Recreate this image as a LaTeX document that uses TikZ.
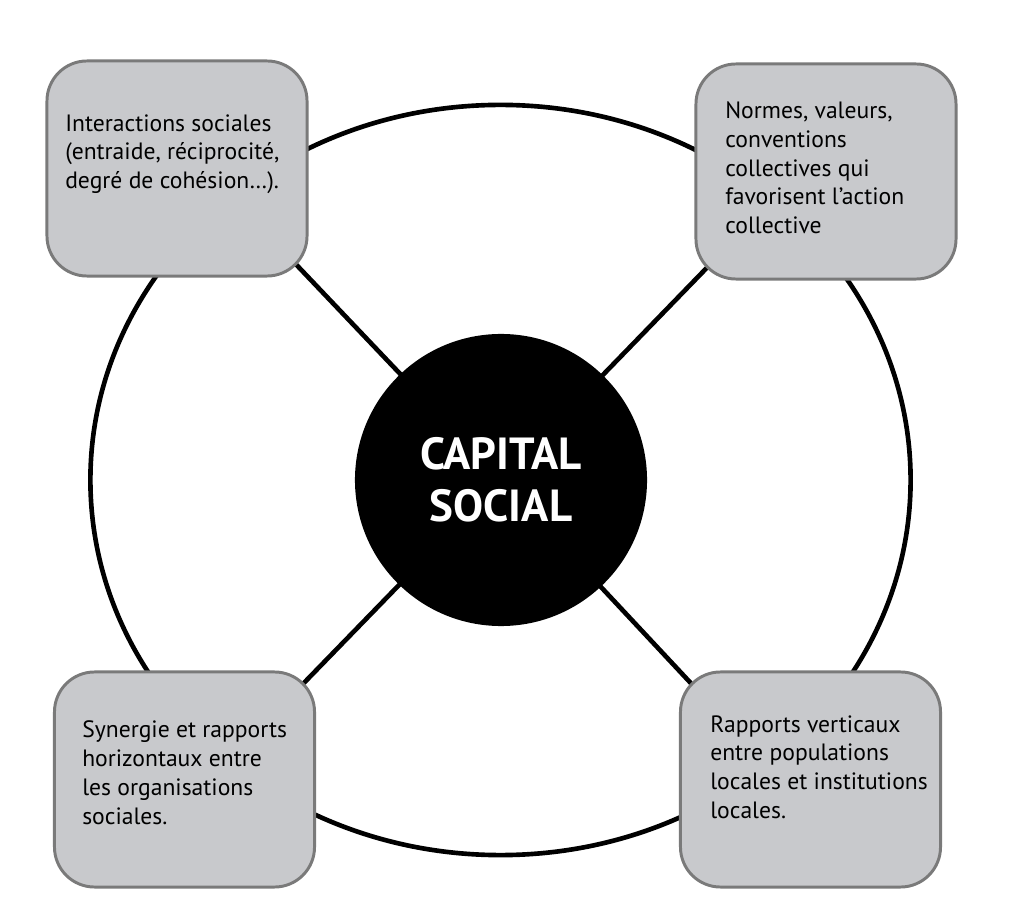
\documentclass[tikz,border=0pt]{standalone}
\usepackage{fontspec}
\setmainfont{PT Sans}
\usetikzlibrary{calc,backgrounds}
\definecolor{boxgray}{RGB}{200,201,204}
\definecolor{edgegray}{RGB}{122,122,122}

\begin{document}
\begin{tikzpicture}[x=0.025cm,y=-0.025cm,
    bloc/.style={draw=edgegray, line width=2.1pt, fill=boxgray, rounded corners=1cm,
        minimum width=6.5cm, minimum height=5.375cm},
    texte/.style={anchor=north west, inner sep=0pt, align=left,
        font=\fontsize{16.8}{20.6}\selectfont},
    rayon/.style={line width=3.3pt}]
    \useasboundingbox (0,0) rectangle (1009,912);
    % grand cercle
    \draw[line width=3.3pt] (500.5,480) ellipse [x radius=10.25cm, y radius=9.375cm];
    % centre
    \node[circle, fill=black, minimum size=7.3cm, inner sep=0pt, align=center, text=white,
        font=\bfseries\fontsize{32}{37}\selectfont] (cap) at (501,480) {CAPITAL\\SOCIAL};
    % les quatre blocs
    \node[bloc] (hg) at (177,168.5) {};
    \node[bloc] (hd) at (826,171.5) {};
    \node[bloc] (bg) at (184.5,779.5) {};
    \node[bloc] (bd) at (810.5,779.5) {};
    \node[texte] (hgtxt) at (65,114) {Interactions sociales\\(entraide, réciprocité,\\degré de cohésion…).};
    \node[texte] (hdtxt) at (725,101) {Normes, valeurs,\\conventions\\collectives qui\\favorisent l’action\\collective};
    \node[texte] (bgtxt) at (82,720) {Synergie et rapports\\horizontaux entre\\les organisations\\sociales.};
    \node[texte] (bdtxt) at (710,715) {Rapports verticaux\\entre populations\\locales et institutions\\locales.};
    % rayons
    \begin{scope}[on background layer]
        \draw[rayon] (cap.center) -- ($(cap.center)!1.3!(hg.south east)$);
        \draw[rayon] (cap.center) -- ($(cap.center)!1.3!(hd.south west)$);
        \draw[rayon] (cap.center) -- ($(cap.center)!1.3!(bg.north east)$);
        \draw[rayon] (cap.center) -- ($(cap.center)!1.3!(bd.north west)$);
    \end{scope}
\end{tikzpicture}
\end{document}
